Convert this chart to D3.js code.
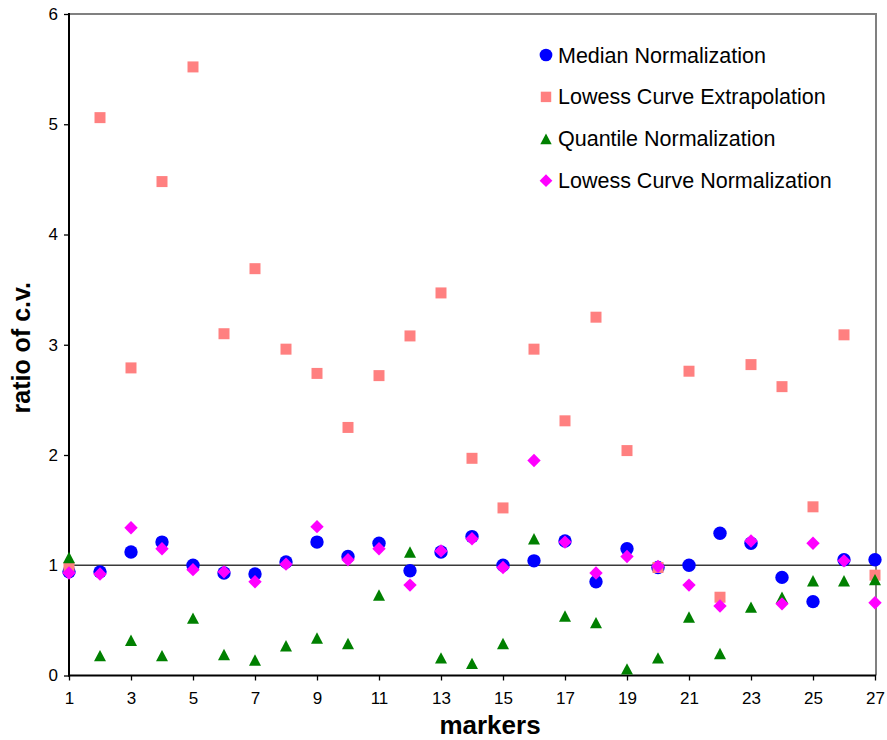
<!DOCTYPE html>
<html>
<head>
<meta charset="utf-8">
<script src="https://cdn.jsdelivr.net/npm/d3@7"></script>
<style>
  html, body { margin: 0; padding: 0; background: #fff; }
  svg { display: block; font-family: Arial, "Liberation Sans", sans-serif; }
</style>
</head>
<body>
<svg id="chart" width="887" height="740"></svg>
<script>
// Marker index 1..27
const markers = d3.range(1, 28);

// Ratio of coefficient of variation per method
const medianNorm = [0.94, 0.94, 1.12, 1.21, 1.00, 0.93, 0.92, 1.03, 1.21, 1.08,
                    1.20, 0.95, 1.12, 1.26, 1.00, 1.04, 1.22, 0.85, 1.15, 0.98,
                    1.00, 1.29, 1.20, 0.89, 0.67, 1.05, 1.05];
const lowessExtrap = [0.98, 5.06, 2.79, 4.48, 5.52, 3.10, 3.69, 2.96, 2.74, 2.25,
                      2.72, 3.08, 3.47, 1.97, 1.52, 2.96, 2.31, 3.25, 2.04, 0.98,
                      2.76, 0.71, 2.82, 2.62, 1.53, 3.09, 0.91];
const quantileNorm = [1.07, 0.18, 0.32, 0.18, 0.52, 0.19, 0.14, 0.27, 0.34, 0.29,
                      0.73, 1.12, 0.16, 0.11, 0.29, 1.24, 0.54, 0.48, 0.06, 0.16,
                      0.53, 0.20, 0.62, 0.71, 0.86, 0.86, 0.87];
const lowessNorm = [0.93, 0.92, 1.34, 1.15, 0.96, 0.94, 0.85, 1.01, 1.35, 1.05,
                    1.15, 0.82, 1.13, 1.24, 0.98, 1.95, 1.21, 0.93, 1.08, 0.99,
                    0.82, 0.63, 1.22, 0.65, 1.20, 1.04, 0.66];

const seriesNames = ["Median Normalization", "Lowess Curve Extrapolation",
                     "Quantile Normalization", "Lowess Curve Normalization"];
const yTicks = [0, 1, 2, 3, 4, 5, 6];
const xTicks = d3.range(1, 28, 2);
const referenceLevel = 1;

// Marker glyphs: "size" is the width of the glyph's bounding box in px
const circleMark = { draw(ctx, w) { const r = w / 2; ctx.moveTo(r, 0); ctx.arc(0, 0, r, 0, 2 * Math.PI); } };
const squareMark = { draw(ctx, w) { const h = w / 2; ctx.rect(-h, -h, w, w); } };
const triangleMark = { draw(ctx, w) {
  const h = w * 0.95, hw = w / 2;
  ctx.moveTo(0, -h / 2); ctx.lineTo(hw, h / 2); ctx.lineTo(-hw, h / 2); ctx.closePath();
} };
const diamondMark = { draw(ctx, w) {
  const h = w / 2;
  ctx.moveTo(0, -h); ctx.lineTo(h, 0); ctx.lineTo(0, h); ctx.lineTo(-h, 0); ctx.closePath();
} };

const series = [
  { name: seriesNames[0], values: medianNorm,   color: "#0000FF", shape: circleMark,   size: 13.4 },
  { name: seriesNames[1], values: lowessExtrap, color: "#FF8080", shape: squareMark,   size: 11 },
  { name: seriesNames[2], values: quantileNorm, color: "#008000", shape: triangleMark, size: 12 },
  { name: seriesNames[3], values: lowessNorm,   color: "#FF00FF", shape: diamondMark,  size: 13.4 }
];

const svg = d3.select("#chart");
const plotLeft = 69, plotRight = 875, plotTop = 14, plotBottom = 675.5;

const x = d3.scaleLinear().domain([1, 27]).range([plotLeft, plotRight]);
const y = d3.scaleLinear().domain([0, 6]).range([plotBottom, plotTop]);

// Plot frame: grey top and right edges
svg.append("path")
  .attr("d", `M${plotLeft},${plotTop}H${plotRight + 1}V${plotBottom}`)
  .attr("fill", "none")
  .attr("stroke", "#808080")
  .attr("stroke-width", 2);

// Reference line at ratio 1
svg.append("line")
  .attr("x1", plotLeft).attr("x2", plotRight + 1)
  .attr("y1", y(referenceLevel)).attr("y2", y(referenceLevel))
  .attr("stroke", "#3a3a3a")
  .attr("stroke-width", 1.3);

// Axes
const yAxis = d3.axisLeft(y).tickValues(yTicks).tickFormat(d3.format("d")).tickSizeInner(5).tickSizeOuter(0).tickPadding(6);
const xAxis = d3.axisBottom(x).tickValues(xTicks).tickFormat(d3.format("d")).tickSizeInner(5).tickSizeOuter(0).tickPadding(11);

const gy = svg.append("g").attr("transform", `translate(${plotLeft},0)`).call(yAxis);
const gx = svg.append("g").attr("transform", `translate(0,${plotBottom})`).call(xAxis);

[gx, gy].forEach(g => {
  g.select(".domain").attr("stroke", "#000").attr("stroke-width", 2);
  g.selectAll(".tick line").attr("stroke", "#000").attr("stroke-width", 1.3);
  g.selectAll(".tick text").attr("fill", "#000").style("font-size", "17px")
    .style("font-family", "Arial, 'Liberation Sans', sans-serif");
});
gy.select(".domain").attr("d", `M0,${plotTop - 1}V${plotBottom + 1}`);
gx.select(".domain").attr("d", `M${plotLeft - 1},0H${plotRight + 1}`);

// Data points, drawn in series order
series.forEach(s => {
  svg.append("g")
    .selectAll("path")
    .data(markers.map((m, i) => ({ m, v: s.values[i] })))
    .join("path")
    .attr("transform", d => `translate(${x(d.m)},${y(d.v)})`)
    .attr("d", d3.symbol().type(s.shape).size(s.size))
    .attr("fill", s.color);
});

// Axis titles
svg.append("text")
  .attr("x", 490).attr("y", 734)
  .attr("text-anchor", "middle")
  .style("font-size", "26px").style("font-weight", "bold")
  .text("markers");

svg.append("text")
  .attr("transform", `translate(30,${(plotTop + plotBottom) / 2 + 3}) rotate(-90)`)
  .attr("text-anchor", "middle")
  .style("font-size", "25px").style("font-weight", "bold")
  .text("ratio of c.v.");

// Legend
const legend = svg.append("g").attr("transform", "translate(546,55)");
series.forEach((s, i) => {
  const row = legend.append("g").attr("transform", `translate(0,${i * 41.9})`);
  row.append("path")
    .attr("d", d3.symbol().type(s.shape).size(s.size * 0.95))
    .attr("fill", s.color);
  row.append("text")
    .attr("x", 12).attr("y", 7.5)
    .style("font-size", "21.5px")
    .attr("fill", "#000")
    .text(s.name);
});
</script>
</body>
</html>
